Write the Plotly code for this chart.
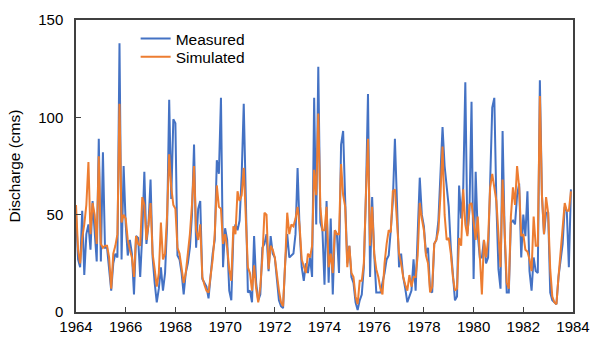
import plotly.graph_objects as go

start_year = 1964
measured = [
    51, 27, 23, 52, 19, 40, 45, 32, 57, 40, 26, 89,
    26, 82, 33, 33, 23, 11, 25, 30, 28, 138, 27, 75,
    45, 29, 37, 30, 9, 39, 38, 18, 40, 72, 35, 45,
    68, 28, 15, 5, 12, 23, 11, 20, 45, 109, 58, 99,
    97, 29, 27, 20, 9, 20, 25, 33, 50, 86, 33, 53,
    57, 17, 15, 13, 7, 20, 30, 37, 78, 71, 110, 23,
    43, 37, 11, 6, 40, 45, 42, 47, 70, 107, 57, 10,
    11, 5, 39, 15, 6, 9, 33, 35, 40, 21, 39, 30,
    28, 15, 6, 3, 2, 25, 40, 28, 29, 30, 40, 74,
    42, 23, 16, 25, 20, 28, 18, 110, 45, 126, 46, 42,
    14, 57, 15, 48, 9, 42, 40, 20, 86, 93, 57, 25,
    34, 18, 15, 5, 1, 6, 9, 23, 60, 112, 18, 59,
    30, 10, 10, 10, 15, 20, 27, 29, 42, 57, 89, 59,
    23, 30, 18, 12, 5, 8, 11, 27, 11, 40, 69, 50,
    44, 30, 33, 11, 10, 35, 37, 47, 70, 95, 75, 65,
    54, 33, 17, 6, 8, 65, 48, 64, 118, 40, 52, 108,
    17, 72, 40, 28, 28, 37, 25, 28, 67, 105, 110, 56,
    22, 12, 93, 40, 10, 10, 46, 47, 45, 60, 66, 28,
    50, 39, 62, 21, 11, 28, 21, 20, 119, 60, 40, 51,
    51, 10, 6, 5, 4, 18, 28, 35, 54, 52, 23, 63,
]
simulated = [
    55, 32, 25, 38, 45, 55, 77, 40, 56, 50, 35, 80,
    35, 33, 34, 34, 28, 12, 30, 34, 40, 107, 46, 50,
    48, 37, 32, 28, 18, 39, 35, 34, 59, 55, 37, 45,
    56, 30, 22, 13, 20, 46, 27, 30, 50, 81, 64, 55,
    53, 33, 30, 22, 15, 20, 30, 40, 55, 75, 42, 37,
    45, 18, 14, 11, 10, 18, 27, 40, 65, 54, 53, 35,
    40, 33, 22, 16, 44, 40, 62, 57, 60, 74, 50, 23,
    20, 11, 24, 12, 5, 13, 28, 51, 50, 22, 34, 32,
    28, 18, 11, 5, 3, 25, 51, 40, 45, 44, 48, 54,
    44, 27, 23, 20, 30, 28, 34, 73, 60, 102, 54, 42,
    42, 54, 23, 30, 20, 42, 40, 40, 76, 60, 54, 23,
    34, 20, 18, 8, 4, 16, 16, 25, 60, 89, 34, 54,
    30, 22, 18, 12, 9, 25, 35, 42, 41, 62, 63, 49,
    30, 25, 18, 14, 11, 19, 13, 18, 18, 29, 56, 48,
    42, 29, 25, 10, 13, 35, 37, 42, 60, 85, 50, 37,
    38, 30, 18, 11, 12, 38, 34, 63, 45, 39, 55, 56,
    45, 37, 49, 32, 9, 37, 28, 37, 64, 71, 65, 57,
    40, 23, 68, 40, 15, 12, 49, 64, 55, 75, 64, 39,
    40, 32, 31, 27, 21, 49, 34, 34, 111, 60, 40, 59,
    51, 22, 8, 5, 4, 18, 30, 40, 56, 52, 52, 62,
]
x_ticks = [1964, 1966, 1968, 1970, 1972, 1974, 1976, 1978, 1980, 1982, 1984]
y_ticks = [0, 50, 100, 150]

t = [start_year + i / 12 for i in range(len(measured))]

fig = go.Figure()
fig.add_trace(go.Scatter(x=t, y=measured, mode="lines", name="Measured",
                         line=dict(color="#4472C4", width=2), legend="legend"))
fig.add_trace(go.Scatter(x=t, y=simulated, mode="lines", name="Simulated",
                         line=dict(color="#ED7D31", width=2), legend="legend2"))

font = "Liberation Sans, Arial, sans-serif"
leg_common = dict(xanchor="left", yanchor="middle", bgcolor="rgba(0,0,0,0)",
                  font=dict(size=15.5), borderwidth=0)
fig.update_layout(
    width=591, height=338, autosize=False,
    margin=dict(l=76, r=18, t=20, b=26),
    paper_bgcolor="white", plot_bgcolor="white",
    font=dict(family=font, size=14, color="#000000"),
    showlegend=True,
    legend=dict(x=0.12, y=0.935, **leg_common),
    legend2=dict(x=0.12, y=0.873, **leg_common),
    xaxis=dict(range=[1964, 1984], tickvals=x_ticks, ticktext=[str(v) for v in x_ticks],
               showgrid=False, zeroline=False, showline=True, linecolor="#404040",
               linewidth=1.5, mirror=True, ticks="inside", ticklen=5, tickcolor="#404040",
               tickfont=dict(size=15), automargin=False),
    yaxis=dict(range=[0, 150], tickvals=y_ticks, showgrid=False, zeroline=False,
               showline=True, linecolor="#404040", linewidth=1.5, mirror=True,
               ticks="inside", ticklen=5, tickcolor="#404040", tickfont=dict(size=15),
               automargin=False, ticklabelstandoff=8,
               title=dict(text="Discharge (cms)", font=dict(size=15.5), standoff=14)),
)
fig.write_html("out.html")
